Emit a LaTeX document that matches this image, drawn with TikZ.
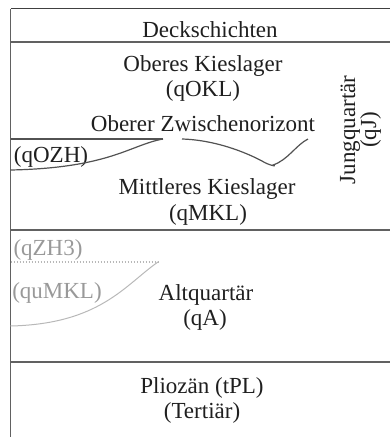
\documentclass[tikz,border=0pt]{standalone}
\usepackage{fontspec}
\setmainfont{Liberation Serif}
\begin{document}
\begin{tikzpicture}[x=1pt,y=-1pt,
  lbl/.style={inner sep=0pt,anchor=base,text=black!88,font=\fontsize{23}{26}\selectfont},
  glbl/.style={lbl,text=black!40},
  rlbl/.style={lbl,rotate=90},
  border/.style={draw=black!62,line width=1.6pt},
  lens/.style={draw=black!68,line width=1.2pt},
  glens/.style={draw=black!28,line width=1pt}]
\useasboundingbox (0,0) rectangle (390,437);
% frame lines
\coordinate (tl) at (10.5,8.5);
\coordinate (tr) at (390,8.5);
\coordinate (bl) at (10.5,437);
\coordinate (d1) at (10.5,42); \coordinate (d2) at (390,42);
\coordinate (j1) at (10.5,230); \coordinate (j2) at (390,230);
\coordinate (a1) at (10.5,362); \coordinate (a2) at (390,362);
\draw[border,draw=black!75] (tr) -- (tl);
\draw[border] (tl) -- (bl);
\draw[border] (d1) -- (d2);
\draw[border] (j1) -- (j2);
\draw[border] (a1) -- (a2);
% texts
\node[lbl] (deck) at (210,37) {Deckschichten};
\node[lbl] (okl) at (203,71) {Oberes Kieslager};
\node[lbl] (okls) at (203,96) {(qOKL)};
\node[lbl] (ozh) at (203,131) {Oberer Zwischenorizont};
\node[lbl] (qozh) at (51,162) {(qOZH)};
\node[lbl] (mkl) at (207,194) {Mittleres Kieslager};
\node[lbl] (mkls) at (208,220) {(qMKL)};
\node[glbl] (zh3) at (48,255) {(qZH3)};
\node[glbl] (umkl) at (57,298) {(quMKL)};
\node[lbl] (alt) at (206,300) {Altquartär};
\node[lbl] (alts) at (205,325) {(qA)};
\node[lbl] (plio) at (202,393) {Pliozän (tPL)};
\node[lbl] (tert) at (202,418) {(Tertiär)};
\node[rlbl] (jung) at (355,130) {Jungquartär};
\node[rlbl] (qj) at (376,130) {(qJ)};
% upper intermediate horizon (lenses)
\coordinate (l1) at (10.5,139);
\coordinate (l2) at (163,139);
\coordinate (l3) at (10.5,170);
\draw[lens] (l1) -- (l2);
\draw[lens] (l3) .. controls (110,168) and (130,145) .. (l2);
\coordinate (r1) at (182,139);
\coordinate (r2) at (273,165);
\coordinate (r3) at (308,139);
\draw[lens] (r1) .. controls (215,140) and (245,152) .. (262,161)
  .. controls (268,165) and (278,167) .. (r2)
  .. controls (288,160) and (296,145) .. (r3);
% lower gray horizon
\coordinate (g1) at (10.5,262);
\coordinate (g2) at (158,262);
\coordinate (g3) at (10.5,326);
\draw[glens,dotted,line width=1.2pt] (g1) -- (g2);
\draw[glens] (g3) .. controls (100,324) and (125,285) .. (g2);
\end{tikzpicture}
\end{document}
